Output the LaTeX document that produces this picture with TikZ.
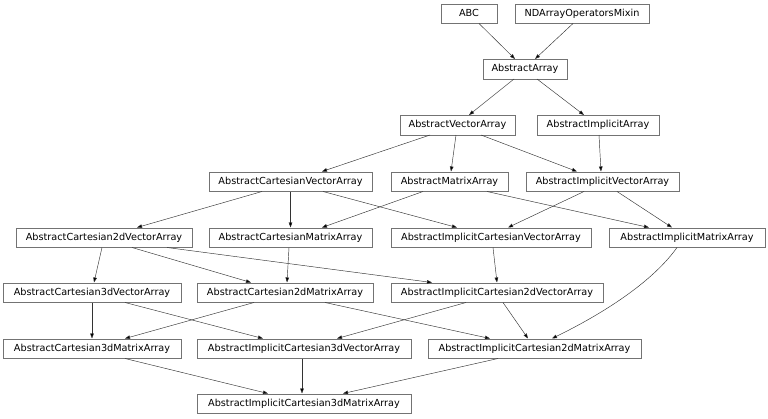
\documentclass[tikz,border=0pt]{standalone}
\usepackage{fontspec}
\newfontfamily\clsfont{DejaVu Sans}
\usetikzlibrary{arrows.meta}
\definecolor{boxline}{gray}{0.45}
\definecolor{edgeline}{gray}{0.2}
\tikzset{
  cls/.style={draw=boxline, line width=0.5pt, inner sep=0pt, minimum height=19.5pt,
    text height=7.2pt, text depth=2.2pt, font={\clsfont\fontsize{9.7pt}{11pt}\selectfont}},
  edge/.style={draw=edgeline, line width=0.45pt, -{Triangle[length=5pt,width=3.6pt,fill=black]}}
}
\begin{document}
\begin{tikzpicture}[x=1pt,y=-1pt]
\useasboundingbox (0,0) rectangle (768,418);
% row 1
\node[cls, minimum width=56pt] (abc) at (469,13.5) {ABC};
\node[cls, minimum width=134pt] (nda) at (582,13.5) {NDArrayOperatorsMixin};
% row 2
\node[cls, minimum width=84pt] (aa) at (525,69) {AbstractArray};
% row 3
\node[cls, minimum width=115pt] (ava) at (457.5,125) {AbstractVectorArray};
\node[cls, minimum width=122pt] (aia) at (598,125) {AbstractImplicitArray};
% row 4
\node[cls, minimum width=163pt] (acva) at (290.5,181.5) {AbstractCartesianVectorArray};
\node[cls, minimum width=117pt] (ama) at (449.5,181.5) {AbstractMatrixArray};
\node[cls, minimum width=153pt] (aiva) at (602.5,181.5) {AbstractImplicitVectorArray};
% row 5
\node[cls, minimum width=176pt] (actwova) at (104,237.5) {AbstractCartesian2dVectorArray};
\node[cls, minimum width=163pt] (acma) at (290.5,237.5) {AbstractCartesianMatrixArray};
\node[cls, minimum width=200pt] (aicva) at (491,237.5) {AbstractImplicitCartesianVectorArray};
\node[cls, minimum width=156pt] (aima) at (687,237.5) {AbstractImplicitMatrixArray};
% row 6
\node[cls, minimum width=178pt] (acthreeva) at (92,292.5) {AbstractCartesian3dVectorArray};
\node[cls, minimum width=176pt] (actwoma) at (285,292.5) {AbstractCartesian2dMatrixArray};
\node[cls, minimum width=212pt] (aictwova) at (497,292.5) {AbstractImplicitCartesian2dVectorArray};
% row 7
\node[cls, minimum width=178pt] (acthreema) at (92,348.5) {AbstractCartesian3dMatrixArray};
\node[cls, minimum width=214pt] (aicthreeva) at (304,348.5) {AbstractImplicitCartesian3dVectorArray};
\node[cls, minimum width=213pt] (aictwoma) at (534.5,348.5) {AbstractImplicitCartesian2dMatrixArray};
% row 8
\node[cls, minimum width=214pt] (aicthreema) at (304,403.5) {AbstractImplicitCartesian3dMatrixArray};

% edges
\draw[edge] ([xshift=10pt]abc.south) -- ([xshift=-10pt]aa.north);
\draw[edge] ([xshift=-9pt]nda.south) -- ([xshift=10pt]aa.north);
\draw[edge] ([xshift=-11pt]aa.south) -- ([xshift=11.5pt]ava.north);
\draw[edge] ([xshift=12pt]aa.south) -- ([xshift=-14pt]aia.north);
\draw[edge] ([xshift=-27.5pt]ava.south) -- ([xshift=31.5pt]acva.north);
\draw[edge] ([xshift=-1.5pt]ava.south) -- ([xshift=1.5pt]ama.north);
\draw[edge] ([xshift=23.5pt]ava.south) -- ([xshift=-25.5pt]aiva.north);
\draw[edge] ([xshift=1pt]aia.south) -- ([xshift=-1.5pt]aiva.north);
\draw[edge] ([xshift=-28.5pt]acva.south) -- ([xshift=33pt]actwova.north);
\draw[edge] (acva.south) -- (acma.north);
\draw[edge] ([xshift=32.5pt]acva.south) -- ([xshift=-34pt]aicva.north);
\draw[edge] ([xshift=-26.5pt]ama.south) -- ([xshift=31.5pt]acma.north);
\draw[edge] ([xshift=37.5pt]ama.south) -- ([xshift=-38pt]aima.north);
\draw[edge] ([xshift=-18.5pt]aiva.south) -- ([xshift=17pt]aicva.north);
\draw[edge] ([xshift=14.5pt]aiva.south) -- ([xshift=-15pt]aima.north);
\draw[edge] ([xshift=-2pt]actwova.south) -- ([xshift=2pt]acthreeva.north);
\draw[edge] ([xshift=28pt]actwova.south) -- ([xshift=-34pt]actwoma.north);
\draw[edge] ([xshift=63pt]actwova.south) -- ([xshift=-65pt]aictwova.north);
\draw[edge] ([xshift=-1.5pt]acma.south) -- ([xshift=2pt]actwoma.north);
\draw[edge] ([xshift=2pt]aicva.south) -- (aictwova.north);
\draw[edge] ([xshift=-10pt]aima.south) .. controls +(-27,38) and +(43,-21) .. ([xshift=17.5pt]aictwoma.north);
\draw[edge] (acthreeva.south) -- (acthreema.north);
\draw[edge] ([xshift=33pt]acthreeva.south) -- ([xshift=-41pt]aicthreeva.north);
\draw[edge] ([xshift=-31pt]actwoma.south) -- ([xshift=33pt]acthreema.north);
\draw[edge] ([xshift=40pt]actwoma.south) -- ([xshift=-44.5pt]aictwoma.north);
\draw[edge] ([xshift=-31pt]aictwova.south) -- ([xshift=33pt]aicthreeva.north);
\draw[edge] ([xshift=6pt]aictwova.south) -- ([xshift=-6.5pt]aictwoma.north);
\draw[edge] ([xshift=33pt]acthreema.south) -- ([xshift=-36pt]aicthreema.north);
\draw[edge] ([xshift=-2pt]aicthreeva.south) -- ([xshift=-2pt]aicthreema.north);
\draw[edge] ([xshift=-36.5pt]aictwoma.south) -- ([xshift=39pt]aicthreema.north);
\end{tikzpicture}
\end{document}
